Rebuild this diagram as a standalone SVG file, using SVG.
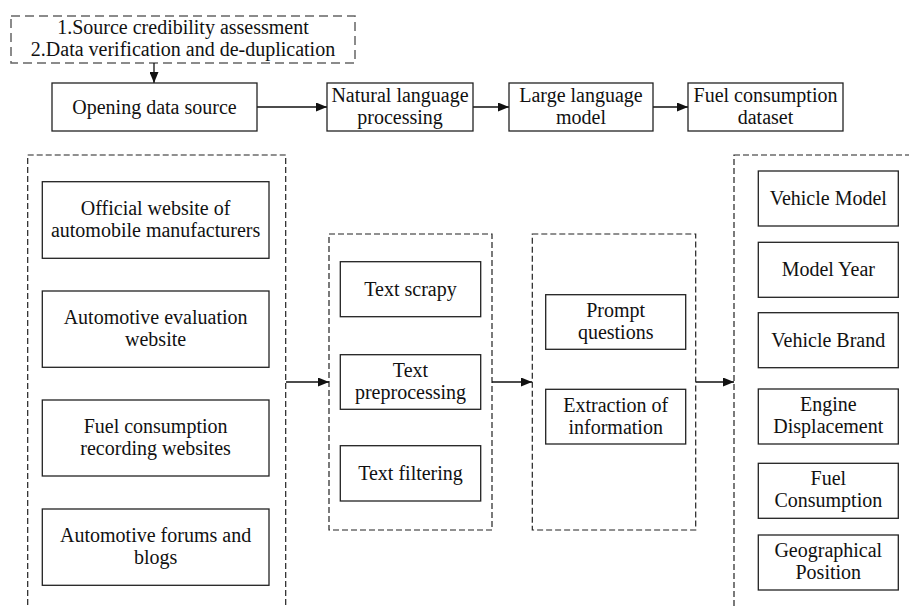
<svg xmlns="http://www.w3.org/2000/svg" width="909" height="607" viewBox="0 0 909 607">
<style>
text{font-family:"Liberation Serif","Times New Roman",serif;font-size:20px;fill:#111;text-anchor:middle}
.box{fill:#fff;stroke:#222;stroke-width:1.3}
.grp{fill:none;stroke:#222;stroke-width:1.2;stroke-dasharray:6 3}
.note{fill:#fff;stroke:#666;stroke-width:1.5;stroke-dasharray:9 5}
.conn{fill:none;stroke:#111;stroke-width:1.3;marker-end:url(#ah)}
</style>
<defs>
<marker id="ah" markerUnits="userSpaceOnUse" markerWidth="11" markerHeight="9" refX="11" refY="4.5" orient="auto"><path d="M0,0 L11,4.5 L0,9 z" fill="#111"/></marker>
</defs>
<rect width="909" height="607" fill="#fff"/>
<g id="containers">
<rect class="grp" x="27.7" y="155" width="258" height="480"/>
<rect class="grp" x="329" y="234" width="163" height="296"/>
<rect class="grp" x="532.3" y="234" width="163.4" height="296"/>
<rect class="grp" x="734" y="155" width="200" height="480"/>
</g>
<g id="note">
<rect class="note" x="11" y="16" width="344" height="47"/>
<text x="183" y="34">1.Source credibility assessment</text>
<text x="183" y="56">2.Data verification and de-duplication</text>
</g>
<g id="connectors">
<line class="conn" x1="154" y1="63" x2="154" y2="83"/>
<line class="conn" x1="257" y1="107" x2="327" y2="107"/>
<line class="conn" x1="473" y1="107" x2="509" y2="107"/>
<line class="conn" x1="653" y1="107" x2="688" y2="107"/>
<line class="conn" x1="286" y1="382" x2="329" y2="382"/>
<line class="conn" x1="492" y1="382" x2="532" y2="382"/>
<line class="conn" x1="696" y1="382" x2="734" y2="382"/>
</g>
<g id="opening"><rect class="box" x="52" y="83" width="205" height="48"/><text x="154.5" y="113.5">Opening data source</text></g>
<g id="nlp"><rect class="box" x="327" y="83" width="146" height="48"/><text x="400" y="101.5">Natural language</text><text x="400" y="124">processing</text></g>
<g id="llm"><rect class="box" x="509" y="83" width="144" height="48"/><text x="581" y="101.5">Large language</text><text x="581" y="124">model</text></g>
<g id="dataset"><rect class="box" x="688" y="83" width="155" height="48"/><text x="765.5" y="101.5">Fuel consumption</text><text x="765.5" y="124">dataset</text></g>
<g id="src1"><rect class="box" x="42.3" y="181.7" width="226.7" height="76.6"/><text x="155.6" y="215">Official website of</text><text x="155.6" y="237">automobile manufacturers</text></g>
<g id="src2"><rect class="box" x="42.3" y="291" width="226.7" height="76.3"/><text x="155.6" y="324">Automotive evaluation</text><text x="155.6" y="346">website</text></g>
<g id="src3"><rect class="box" x="42.3" y="400" width="226.7" height="76"/><text x="155.6" y="433">Fuel consumption</text><text x="155.6" y="455">recording websites</text></g>
<g id="src4"><rect class="box" x="42.3" y="509" width="226.7" height="76.3"/><text x="155.6" y="542">Automotive forums and</text><text x="155.6" y="564">blogs</text></g>
<g id="scrapy"><rect class="box" x="340.3" y="261.7" width="140.4" height="55"/><text x="410.5" y="295.7">Text scrapy</text></g>
<g id="preproc"><rect class="box" x="340.3" y="354.7" width="140.4" height="54.6"/><text x="410.5" y="377">Text</text><text x="410.5" y="399">preprocessing</text></g>
<g id="filter"><rect class="box" x="340.3" y="445.7" width="140.4" height="55.3"/><text x="410.5" y="479.8">Text filtering</text></g>
<g id="prompt"><rect class="box" x="545.7" y="294.7" width="140" height="54.6"/><text x="615.7" y="317">Prompt</text><text x="615.7" y="339">questions</text></g>
<g id="extract"><rect class="box" x="545.7" y="389.3" width="140" height="54.7"/><text x="615.7" y="411.6">Extraction of</text><text x="615.7" y="433.6">information</text></g>
<g id="f1"><rect class="box" x="758.3" y="171" width="140" height="55"/><text x="828.3" y="205">Vehicle Model</text></g>
<g id="f2"><rect class="box" x="758.3" y="242.3" width="140" height="55"/><text x="828.3" y="276.3">Model Year</text></g>
<g id="f3"><rect class="box" x="758.3" y="312.7" width="140" height="55"/><text x="828.3" y="346.7">Vehicle Brand</text></g>
<g id="f4"><rect class="box" x="758.3" y="389" width="140" height="55"/><text x="828.3" y="411">Engine</text><text x="828.3" y="433">Displacement</text></g>
<g id="f5"><rect class="box" x="758.3" y="463.3" width="140" height="55"/><text x="828.3" y="485.3">Fuel</text><text x="828.3" y="507.3">Consumption</text></g>
<g id="f6"><rect class="box" x="758.3" y="535" width="140" height="55"/><text x="828.3" y="557">Geographical</text><text x="828.3" y="579">Position</text></g>
</svg>
